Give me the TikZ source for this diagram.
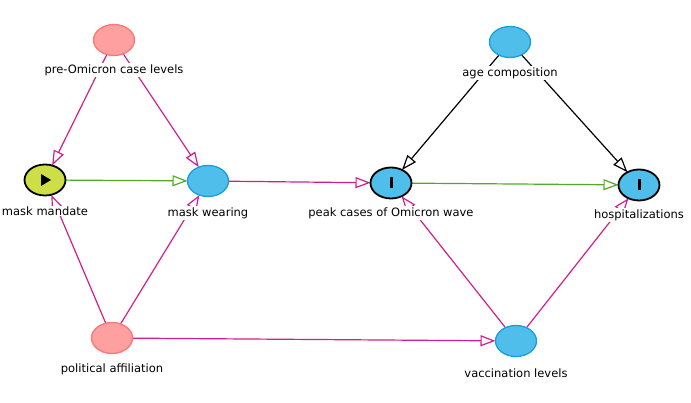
\documentclass[tikz,border=0pt]{standalone}
\usepackage{fontspec}
\setmainfont{DejaVu Sans}
\usetikzlibrary{shapes.geometric,arrows.meta,calc}
\definecolor{confFill}{RGB}{255,160,160}
\definecolor{confDraw}{RGB}{250,120,120}
\definecolor{blueFill}{RGB}{80,190,235}
\definecolor{blueDraw}{RGB}{20,160,220}
\definecolor{expFill}{RGB}{205,222,70}
\definecolor{pinkEdge}{RGB}{210,30,140}
\definecolor{greenEdge}{RGB}{80,170,40}
\pgfdeclarelayer{bg}
\pgfsetlayers{bg,main}
\tikzset{
  vnode/.style={ellipse, minimum width=41pt, minimum height=31pt, inner sep=0pt, outer sep=0pt},
  confnode/.style={vnode, fill=confFill, draw=confDraw, line width=1.3pt},
  bluenode/.style={vnode, fill=blueFill, draw=blueDraw, line width=1.3pt},
  outnode/.style={vnode, fill=blueFill, draw=black, line width=1.8pt},
  expnode/.style={vnode, fill=expFill, draw=black, line width=1.8pt},
  lbl/.style={fill=white, inner sep=1pt, font=\fontsize{11.5pt}{13pt}\selectfont},
  edge/.style={line width=1.2pt, -{Triangle[open, length=15pt, width=11pt]}},
  pinkedge/.style={edge, draw=pinkEdge},
  greenedge/.style={edge, draw=greenEdge},
  blackedge/.style={edge, draw=black},
}
\begin{document}
\begin{tikzpicture}[x=1pt, y=-1pt]
\useasboundingbox (0,0) rectangle (691,403);
% nodes
\node[confnode] (pre) at (114,40) {};
\node[bluenode] (age) at (510,42) {};
\node[expnode] (mm) at (45,180) {};
\node[bluenode] (mw) at (208,181) {};
\node[outnode] (pc) at (391,183) {};
\node[outnode] (hosp) at (639,185) {};
\node[confnode] (pol) at (112,338) {};
\node[bluenode] (vac) at (516,341) {};
% node marks
\fill[black] ($(mm)+(-4,-6)$) -- ($(mm)+(6,0)$) -- ($(mm)+(-4,6)$) -- cycle;
\fill[black] ($(pc)+(-1.5,-5.5)$) rectangle ($(pc)+(1.5,5.5)$);
\fill[black] ($(hosp)+(-1.5,-5.5)$) rectangle ($(hosp)+(1.5,5.5)$);
% edges
\begin{pgfonlayer}{bg}
\draw[pinkedge] (pre) -- (mm);
\draw[pinkedge] (pre) -- (mw);
\draw[greenedge] (mm) -- (mw);
\draw[pinkedge] (mw) -- (pc);
\draw[blackedge] (age) -- (pc);
\draw[blackedge] (age) -- (hosp);
\draw[greenedge] (pc) -- (hosp);
\draw[pinkedge] (pol) -- (mm);
\draw[pinkedge] (pol) -- (mw);
\draw[pinkedge] (pol) -- (vac);
\draw[pinkedge] (vac) -- (pc);
\draw[pinkedge] (vac) -- (hosp);
\end{pgfonlayer}
% labels
\node[lbl] (lpre) at (114,70) {pre-Omicron case levels};
\node[lbl] (lage) at (510,73) {age composition};
\node[lbl] (lmm) at (45,211) {mask mandate};
\node[lbl] (lmw) at (208,213) {mask wearing};
\node[lbl] (lpc) at (391,213) {peak cases of Omicron wave};
\node[lbl] (lhosp) at (639,215) {hospitalizations};
\node[lbl] (lpol) at (112,369) {political affiliation};
\node[lbl] (lvac) at (516,373) {vaccination levels};
\end{tikzpicture}
\end{document}
